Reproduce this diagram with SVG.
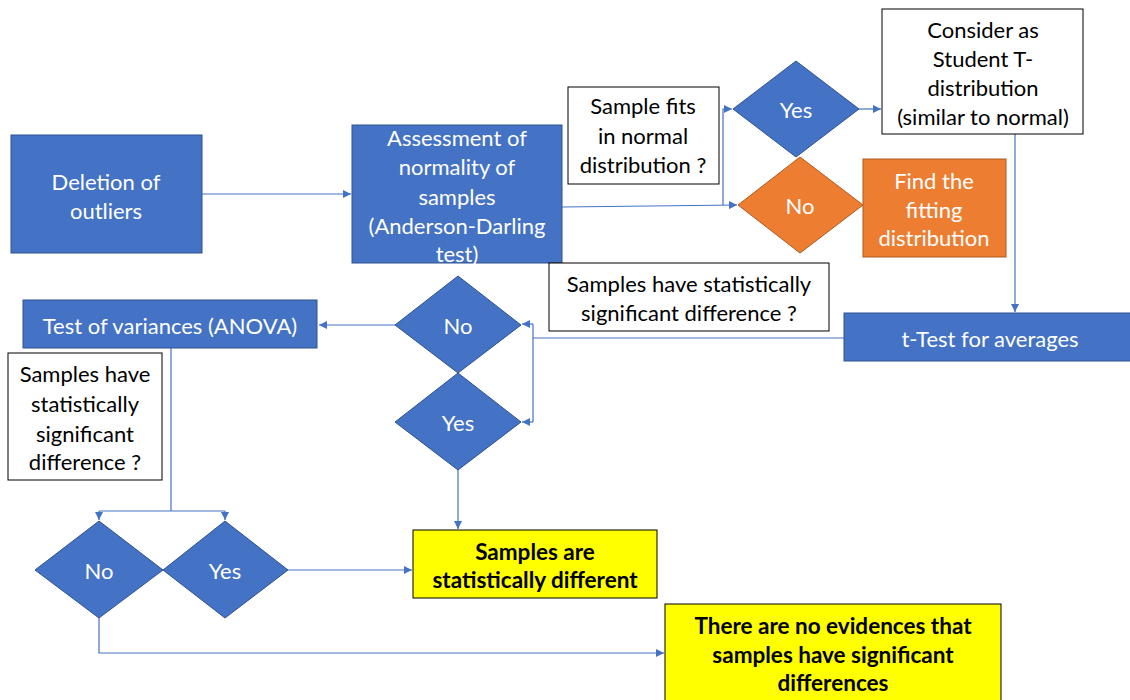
<svg xmlns="http://www.w3.org/2000/svg" width="1130" height="700" viewBox="0 0 1130 700">
<defs>
<marker id="arr" viewBox="0 0 10 10" refX="10" refY="5" markerWidth="8" markerHeight="8" markerUnits="userSpaceOnUse" orient="auto">
<path d="M0,0 L10,5 L0,10 z" fill="#4472C4"/>
</marker>
<style>
.blue{fill:#4472C4;stroke:#2F528F;stroke-width:1}
.orange{fill:#ED7D31;stroke:#AE5A21;stroke-width:1}
.white{fill:#fff;stroke:#000;stroke-width:1}
.yellow{fill:#FFFF00;stroke:#000;stroke-width:1}
.t{font-family:Lato,"Liberation Sans",sans-serif;font-size:22px;text-anchor:middle;dominant-baseline:central}
.tw{fill:#fff}
.tb{fill:#000}
.bold{font-weight:bold;font-size:22.5px}
.c{fill:none;stroke:#4472C4;stroke-width:1.2}
</style>
</defs>
<rect width="1130" height="700" fill="#fff"/>
<g id="connectors">
<line class="c" x1="202" y1="194" x2="351" y2="194" marker-end="url(#arr)"/>
<path class="c" d="M562,207 L737,205" marker-end="url(#arr)"/>
<path class="c" d="M723,205 L723,109 L732,109" marker-end="url(#arr)"/>
<line class="c" x1="859" y1="109" x2="881" y2="109" marker-end="url(#arr)"/>
<line class="c" x1="1015" y1="134" x2="1015" y2="312" marker-end="url(#arr)"/>
<path class="c" d="M844,338 L533,338"/>
<path class="c" d="M533,324 L533,422"/>
<line class="c" x1="533" y1="324" x2="522" y2="324" marker-end="url(#arr)"/>
<line class="c" x1="533" y1="422" x2="522" y2="422" marker-end="url(#arr)"/>
<line class="c" x1="395" y1="325" x2="319" y2="325" marker-end="url(#arr)"/>
<path class="c" d="M171,348 L171,511"/>
<path class="c" d="M99,511 L225,511"/>
<line class="c" x1="99" y1="511" x2="99" y2="520" marker-end="url(#arr)"/>
<line class="c" x1="225" y1="511" x2="225" y2="520" marker-end="url(#arr)"/>
<line class="c" x1="288" y1="570" x2="412" y2="570" marker-end="url(#arr)"/>
<line class="c" x1="458" y1="470" x2="458" y2="529" marker-end="url(#arr)"/>
<path class="c" d="M99,618 L99,653 L664,653" marker-end="url(#arr)"/>
</g>
<g id="deletion">
<rect class="blue" x="11" y="135" width="191" height="118"/>
<text class="t tw" x="106" y="181">Deletion of</text>
<text class="t tw" x="106" y="210">outliers</text>
</g>
<g id="assessment">
<rect class="blue" x="352" y="125" width="210" height="138"/>
<text class="t tw" x="457" y="137">Assessment of</text>
<text class="t tw" x="457" y="166">normality of</text>
<text class="t tw" x="457" y="196">samples</text>
<text class="t tw" x="457" y="225">(Anderson-Darling</text>
<text class="t tw" x="457" y="253">test)</text>
</g>
<g id="q-normal">
<rect class="white" x="568" y="87" width="151" height="97"/>
<text class="t tb" x="643" y="105">Sample fits</text>
<text class="t tb" x="643" y="135">in normal</text>
<text class="t tb" x="643" y="164">distribution ?</text>
</g>
<g id="yes-top">
<path class="blue" d="M733,109 L796,61 L859,109 L796,157 z"/>
<text class="t tw" x="796" y="109">Yes</text>
</g>
<g id="no-top">
<path class="orange" d="M738,205 L800,157 L863,205 L800,253 z"/>
<text class="t tw" x="800" y="205">No</text>
</g>
<g id="consider">
<rect class="white" x="882" y="9" width="201" height="125"/>
<text class="t tb" x="983" y="29">Consider as</text>
<text class="t tb" x="983" y="58">Student T-</text>
<text class="t tb" x="983" y="87">distribution</text>
<text class="t tb" x="983" y="116">(similar to normal)</text>
</g>
<g id="find">
<rect class="orange" x="863" y="159" width="143" height="98"/>
<text class="t tw" x="934" y="180">Find the</text>
<text class="t tw" x="934" y="209">fitting</text>
<text class="t tw" x="934" y="237">distribution</text>
</g>
<g id="ttest">
<rect class="blue" x="844" y="313" width="290" height="48"/>
<text class="t tw" x="990" y="338">t-Test for averages</text>
</g>
<g id="q-ttest">
<rect class="white" x="549" y="263" width="280" height="68"/>
<text class="t tb" x="689" y="283">Samples have statistically</text>
<text class="t tb" x="689" y="312">significant difference ?</text>
</g>
<g id="no-mid">
<path class="blue" d="M395,325 L458,276 L521,325 L458,373 z"/>
<text class="t tw" x="458" y="325">No</text>
</g>
<g id="yes-mid">
<path class="blue" d="M395,422 L458,373 L521,422 L458,470 z"/>
<text class="t tw" x="458" y="422">Yes</text>
</g>
<g id="anova">
<rect class="blue" x="23" y="300" width="294" height="48"/>
<text class="t tw" x="170" y="325">Test of variances (ANOVA)</text>
</g>
<g id="q-anova">
<rect class="white" x="8" y="353" width="154" height="127"/>
<text class="t tb" x="85" y="373">Samples have</text>
<text class="t tb" x="85" y="403">statistically</text>
<text class="t tb" x="85" y="433">significant</text>
<text class="t tb" x="85" y="461">difference ?</text>
</g>
<g id="no-bottom">
<path class="blue" d="M35,570 L99,521 L163,570 L99,618 z"/>
<text class="t tw" x="99" y="570">No</text>
</g>
<g id="yes-bottom">
<path class="blue" d="M163,570 L225,521 L288,570 L225,618 z"/>
<text class="t tw" x="225" y="570">Yes</text>
</g>
<g id="different">
<rect class="yellow" x="413" y="530" width="244" height="68"/>
<text class="t tb bold" x="535" y="551">Samples are</text>
<text class="t tb bold" x="535" y="579">statistically different</text>
</g>
<g id="no-evidence">
<rect class="yellow" x="665" y="604" width="336" height="100"/>
<text class="t tb bold" x="833" y="625">There are no evidences that</text>
<text class="t tb bold" x="833" y="654">samples have significant</text>
<text class="t tb bold" x="833" y="682">differences</text>
</g>
</svg>
